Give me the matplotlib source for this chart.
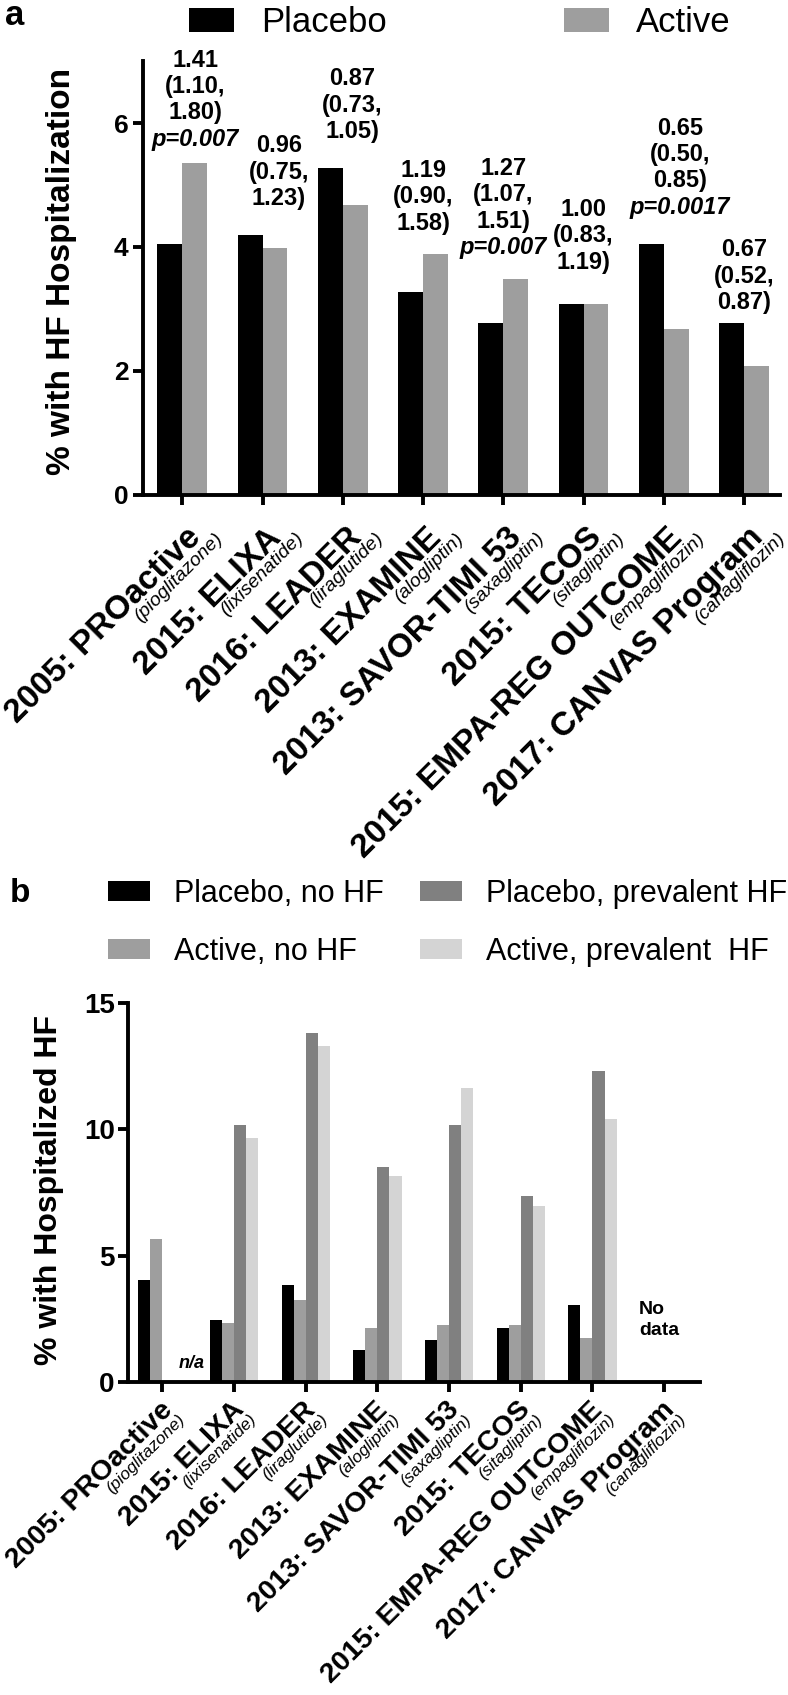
import matplotlib.pyplot as plt
import numpy as np

plt.rcParams['font.family'] = ['Liberation Sans', 'DejaVu Sans']

trials = ['2005: PROactive', '2015: ELIXA', '2016: LEADER', '2013: EXAMINE',
          '2013: SAVOR-TIMI 53', '2015: TECOS', '2015: EMPA-REG OUTCOME',
          '2017: CANVAS Program']
drugs = ['(pioglitazone)', '(lixisenatide)', '(liraglutide)', '(alogliptin)',
         '(saxagliptin)', '(sitagliptin)', '(empagliflozin)', '(canagliflozin)']

# panel a: % with HF hospitalization
placebo = [4.05, 4.2, 5.28, 3.28, 2.78, 3.08, 4.05, 2.78]
active = [5.36, 3.98, 4.68, 3.88, 3.48, 3.08, 2.68, 2.08]
hr = ['1.41', '0.96', '0.87', '1.19', '1.27', '1.00', '0.65', '0.67']
ci = ['(1.10,\n1.80)', '(0.75,\n1.23)', '(0.73,\n1.05)', '(0.90,\n1.58)',
      '(1.07,\n1.51)', '(0.83,\n1.19)', '(0.50,\n0.85)', '(0.52,\n0.87)']
pvals = ['p=0.007', '', '', '', 'p=0.007', '', 'p=0.0017', '']

# panel b: % with hospitalized HF by HF history
nan = np.nan
plac_nohf = [4.05, 2.45, 3.85, 1.25, 1.65, 2.15, 3.05, nan]
act_nohf = [5.65, 2.35, 3.25, 2.15, 2.25, 2.25, 1.75, nan]
plac_hf = [nan, 10.15, 13.8, 8.5, 10.15, 7.35, 12.3, nan]
act_hf = [nan, 9.65, 13.3, 8.15, 11.65, 6.95, 10.4, nan]

# annotation layout for panel a (x shift, bottom y)
note_dx = [0.16, 0.2, 0.12, 0.0, 0.0, 0.0, 0.2, 0.0]
note_y = [5.55, 4.6, 5.68, 4.2, 3.8, 3.57, 4.45, 2.92]

fig = plt.figure(figsize=(7.88, 16.95), dpi=100)
x = np.arange(len(trials))


def style_axis(ax):
    for s in ['top', 'right']:
        ax.spines[s].set_visible(False)
    for s in ['left', 'bottom']:
        ax.spines[s].set_linewidth(2.8)
    ax.tick_params(width=2.8, length=7.5, direction='out')
    ax.set_xticks(x)
    ax.set_xticklabels([])


def trial_labels(ax, size, small, main_off, small_off):
    for i in range(len(trials)):
        ax.annotate(trials[i], xy=(i, 0), xycoords=('data', 'axes fraction'),
                    xytext=main_off, textcoords='offset points', rotation=45,
                    rotation_mode='anchor', ha='right', va='baseline',
                    fontsize=size, fontweight='bold')
        ax.annotate(drugs[i], xy=(i, 0), xycoords=('data', 'axes fraction'),
                    xytext=small_off, textcoords='offset points', rotation=45,
                    rotation_mode='anchor', ha='right', va='baseline',
                    fontsize=small, fontstyle='italic')


# ---- panel a ----
ax1 = fig.add_axes([0.1815, 0.708, 0.8085, 0.256])
w = 0.31
b1 = ax1.bar(x - w / 2, placebo, w, color='black', label='Placebo')
b2 = ax1.bar(x + w / 2, active, w, color='#9e9e9e', label='Active')
ax1.set_xlim(-0.49, 7.45)
ax1.set_ylim(0, 7)
ax1.set_yticks([0, 2, 4, 6])
style_axis(ax1)
ax1.tick_params(axis='y', labelsize=19, pad=3)
for t in ax1.get_yticklabels():
    t.set_fontweight('bold')
ax1.set_ylabel('% with HF Hospitalization', fontsize=24, fontweight='bold')
ax1.yaxis.set_label_coords(-0.104, 0.514)
trial_labels(ax1, 24, 14, (14.4, -31.7), (29.7, -31.7))

for i in range(len(trials)):
    xi = i + note_dx[i]
    shift = 0
    if pvals[i]:
        ax1.annotate(pvals[i], xy=(xi, note_y[i]), ha='center', va='bottom',
                     fontsize=17, fontweight='bold', fontstyle='italic')
        shift = 19.2
    ax1.annotate(hr[i] + '\n' + ci[i], xy=(xi, note_y[i]), xytext=(0, shift),
                 textcoords='offset points', ha='center', va='bottom',
                 fontsize=17, fontweight='bold', linespacing=1.18)

ax1.legend(handles=[b1, b2], loc='upper left', bbox_to_anchor=(0.24, 0.9965),
           bbox_transform=fig.transFigure, ncol=2, frameon=False, fontsize=25,
           handlelength=1.3, handleheight=0.69, handletextpad=0.77,
           columnspacing=5.1, borderpad=0, borderaxespad=0)
fig.text(0.006, 0.9853, 'a', fontsize=25, fontweight='bold', va='baseline')

# ---- panel b ----
ax2 = fig.add_axes([0.1624, 0.1847, 0.7259, 0.2236])
w2 = 0.168
c1 = ax2.bar(x - 1.5 * w2, plac_nohf, w2, color='black', label='Placebo, no HF')
c2 = ax2.bar(x - 0.5 * w2, act_nohf, w2, color='#9e9e9e', label='Active, no HF')
c3 = ax2.bar(x + 0.5 * w2, plac_hf, w2, color='#808080', label='Placebo, prevalent HF')
c4 = ax2.bar(x + 1.5 * w2, act_hf, w2, color='#d4d4d4', label='Active, prevalent  HF')
ax2.set_xlim(-0.48, 7.5)
ax2.set_ylim(0, 15)
ax2.set_yticks([0, 5, 10, 15])
style_axis(ax2)
ax2.tick_params(axis='y', labelsize=20, pad=2)
for t in ax2.get_yticklabels():
    t.set_fontweight('bold')
ax2.set_ylabel('% with Hospitalized HF', fontsize=23, fontweight='bold')
ax2.yaxis.set_label_coords(-0.112, 0.507)
trial_labels(ax2, 20.5, 12.5, (8, -21), (16.6, -27.6))

ax2.text(0.41, 0.71, 'n/a', ha='center', va='center', fontsize=13,
         fontweight='bold', fontstyle='italic')
ax2.text(6.65, 2.45, 'No\ndata', ha='left', va='center', fontsize=14,
         fontweight='bold', linespacing=1.25)

ax2.legend(handles=[c1, c2, c3, c4], loc='upper left',
           bbox_to_anchor=(108 / 788, 0.4814), bbox_transform=fig.transFigure,
           ncol=2, frameon=False, fontsize=22, handlelength=1.37,
           handleheight=0.62, handletextpad=0.78, columnspacing=1.2,
           labelspacing=0.9, borderpad=0, borderaxespad=0)
fig.text(0.0127, 0.4678, 'b', fontsize=24, fontweight='bold', va='baseline')

fig.savefig('out.png', dpi=100)
